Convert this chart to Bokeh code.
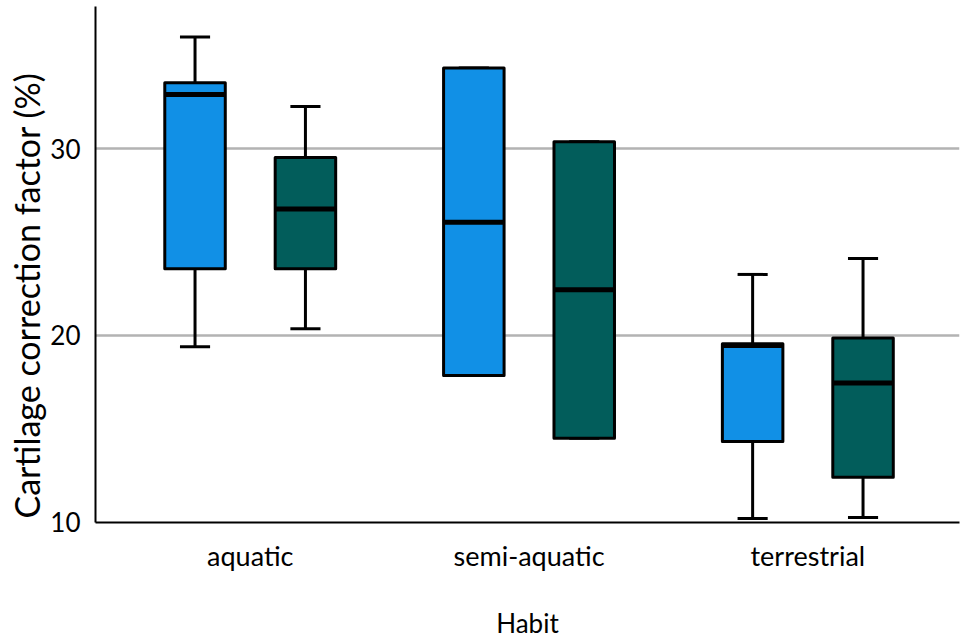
from bokeh.plotting import figure
from bokeh.models import Range1d, FixedTicker, Title
from bokeh.embed import file_html
from bokeh.resources import INLINE

# ---- data ----
habits = ["aquatic", "semi-aquatic", "terrestrial"]
y_ticks = [10, 20, 30]

blue_lower = [19.40, 17.86, 10.20]
blue_q1 = [23.57, 17.86, 14.32]
blue_median = [32.91, 26.07, 19.46]
blue_q3 = [33.54, 34.32, 19.56]
blue_upper = [35.98, 34.32, 23.27]

green_lower = [20.36, 14.50, 10.25]
green_q1 = [23.57, 14.50, 12.41]
green_median = [26.77, 22.45, 17.45]
green_q3 = [29.53, 30.37, 19.86]
green_upper = [32.27, 30.37, 24.12]

# ---- styling ----
BLUE = "#1190E6"
GREEN = "#025D5B"
FONT = "Lato"
OFFSET = 0.198
BOX_W = 0.217
CAP_W = 0.108

p = figure(
    output_backend="svg", toolbar_location=None,
    frame_width=864, frame_height=516,
    min_border_left=95, min_border_right=6, min_border_top=6, min_border_bottom=115,
    x_range=Range1d(0.445, 3.544), y_range=Range1d(9.984, 37.62),
)
p.outline_line_color = None
p.background_fill_color = "white"
p.border_fill_color = "white"

cat_x = [i + 1 for i in range(len(habits))]

groups = [
    (-OFFSET, BLUE, blue_lower, blue_q1, blue_median, blue_q3, blue_upper),
    (OFFSET, GREEN, green_lower, green_q1, green_median, green_q3, green_upper),
]

for off, color, lo, q1, med, q3, up in groups:
    xs = [c + off for c in cat_x]
    # whiskers
    p.segment(xs, q3, xs, up, line_color="black", line_width=3)
    p.segment(xs, lo, xs, q1, line_color="black", line_width=3)
    p.segment([x - CAP_W / 2 for x in xs], up, [x + CAP_W / 2 for x in xs], up,
              line_color="black", line_width=3)
    p.segment([x - CAP_W / 2 for x in xs], lo, [x + CAP_W / 2 for x in xs], lo,
              line_color="black", line_width=3)
    # boxes
    p.vbar(x=xs, bottom=q1, top=q3, width=BOX_W, fill_color=color,
           line_color="black", line_width=3, line_join="round")
    # medians
    p.segment([x - BOX_W / 2 for x in xs], med, [x + BOX_W / 2 for x in xs], med,
              line_color="black", line_width=5)

# axes
p.xaxis.ticker = FixedTicker(ticks=cat_x)
p.xaxis.major_label_overrides = {c: h for c, h in zip(cat_x, habits)}
p.yaxis.ticker = FixedTicker(ticks=y_ticks)

for ax in (p.xaxis[0], p.yaxis[0]):
    ax.major_tick_line_color = None
    ax.minor_tick_line_color = None
    ax.major_tick_out = 0
    ax.major_tick_in = 0
    ax.axis_line_color = "black"
    ax.axis_line_width = 2
    ax.major_label_text_font = FONT
    ax.major_label_text_color = "black"
    ax.axis_label_text_font = FONT
    ax.axis_label_text_font_style = "normal"
    ax.axis_label_text_color = "black"

p.xaxis.major_label_text_font_size = "27px"
p.xaxis.major_label_standoff = 16
p.xaxis.axis_label = "Habit"
p.xaxis.axis_label_text_font_size = "26px"
p.xaxis.axis_label_standoff = 32

p.yaxis.major_label_text_font_size = "26px"
p.yaxis.major_label_standoff = 15

y_title = Title(text="Cartilage correction factor (%)", align="left", offset=4,
                text_font=FONT, text_font_size="34px", text_font_style="normal",
                text_color="black", standoff=2)
p.add_layout(y_title, "left")

p.xgrid.grid_line_color = None
p.ygrid.ticker = FixedTicker(ticks=[t for t in y_ticks if t > y_ticks[0]])
p.ygrid.grid_line_color = "#B3B3B3"
p.ygrid.grid_line_width = 2.5

open("out.html", "w").write(file_html(p, INLINE))
